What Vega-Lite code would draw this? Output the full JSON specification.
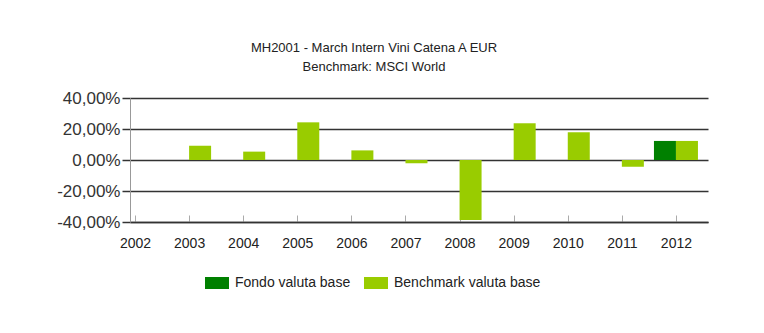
{
  "$schema": "https://vega.github.io/schema/vega-lite/v6.json",
  "autosize": "none",
  "width": 578,
  "height": 124,
  "padding": {"left": 130, "top": 98, "right": 56, "bottom": 111},
  "background": "white",
  "title": {
    "text": ["MH2001 - March Intern Vini Catena A EUR", "Benchmark: MSCI World"],
    "anchor": "middle",
    "dx": -45,
    "offset": 15,
    "font": "Liberation Sans",
    "fontSize": 13,
    "fontWeight": "normal",
    "color": "#222",
    "lineHeight": 19
  },
  "data": {
    "values": [
      {"year": 2003, "series": "Benchmark valuta base", "value": 9.2},
      {"year": 2004, "series": "Benchmark valuta base", "value": 5.4},
      {"year": 2005, "series": "Benchmark valuta base", "value": 24.3},
      {"year": 2006, "series": "Benchmark valuta base", "value": 6.2},
      {"year": 2007, "series": "Benchmark valuta base", "value": -2.1},
      {"year": 2008, "series": "Benchmark valuta base", "value": -38.7},
      {"year": 2009, "series": "Benchmark valuta base", "value": 23.7},
      {"year": 2010, "series": "Benchmark valuta base", "value": 17.9},
      {"year": 2011, "series": "Benchmark valuta base", "value": -4.3},
      {"year": 2012, "series": "Benchmark valuta base", "value": 12.3},
      {"year": 2012, "series": "Fondo valuta base", "value": 12.3}
    ]
  },
  "encoding": {
    "x": {
      "field": "year", "type": "quantitative",
      "scale": {"domain": [2002, 2012.5], "nice": false, "zero": false},
      "axis": {
        "title": null, "values": [2002, 2003, 2004, 2005, 2006, 2007, 2008, 2009, 2010, 2011, 2012],
        "format": "d", "grid": false, "domainColor": "#333", "domainWidth": 1.5,
        "tickColor": "#aaa", "tickSize": -7, "labelPadding": 21,
        "labelFont": "Liberation Sans", "labelFontSize": 14, "labelColor": "#222", "labelFlush": false
      }
    },
    "y": {
      "field": "value", "type": "quantitative",
      "scale": {"domain": [-40, 40], "nice": false},
      "axis": {
        "title": null, "values": [-40, -20, 0, 20, 40],
        "labelExpr": "replace(replace(format(datum.value, '.2f'), '.', ','), '\u2212', '-') + '%'",
        "grid": true, "gridColor": "#333", "gridWidth": 1.5,
        "domainColor": "#999", "domainWidth": 1,
        "tickColor": "#333", "tickSize": 8, "tickWidth": 1.5, "labelPadding": 2,
        "labelFont": "Liberation Sans", "labelFontSize": 17, "labelColor": "#333"
      }
    },
    "color": {
      "field": "series", "type": "nominal",
      "scale": {"domain": ["Fondo valuta base", "Benchmark valuta base"], "range": ["#008000", "#99cc00"]},
      "legend": {
        "title": null, "orient": "none", "direction": "horizontal",
        "legendX": 75, "legendY": 173,
        "symbolType": "M-1,-0.5H1V0.5H-1Z", "symbolSize": 576, "symbolStrokeWidth": 0,
        "labelFont": "Liberation Sans", "labelFontSize": 14, "labelColor": "#222",
        "labelOffset": 6, "columnPadding": 13
      }
    }
  },
  "layer": [
    {"transform": [{"filter": "datum.series === 'Fondo valuta base'"}], "mark": {"type": "bar", "width": 22, "xOffset": -11}},
    {"transform": [{"filter": "datum.series === 'Benchmark valuta base'"}], "mark": {"type": "bar", "width": 22, "xOffset": 11}}
  ],
  "config": {"view": {"stroke": null}}
}
